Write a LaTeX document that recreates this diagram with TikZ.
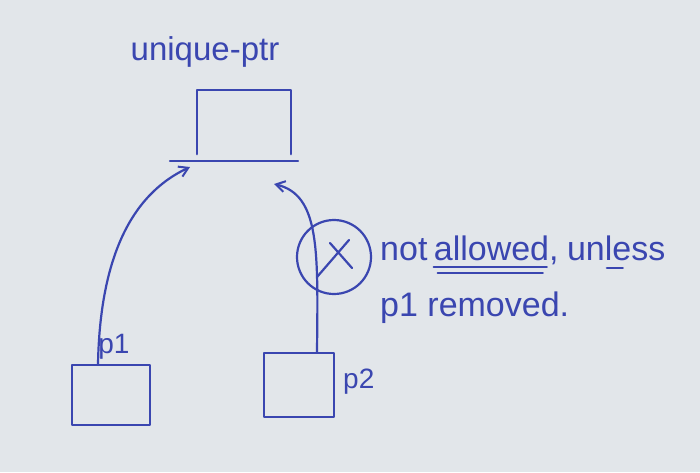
\documentclass[tikz,border=0pt]{standalone}
\usepackage{fontspec}
\setmainfont{Liberation Sans}
\usetikzlibrary{arrows.meta}
\definecolor{ink}{RGB}{58,70,176}
\definecolor{board}{RGB}{226,230,234}
\begin{document}
\begin{tikzpicture}[x=1pt,y=-1pt,
  pen/.style={draw=ink,line width=2.2pt,line cap=round,line join=round},
  hand/.style={text=ink,inner sep=0pt,font=\fontsize{28}{32}\selectfont},
  remark/.style={text=ink,inner sep=0pt,anchor=base west,font=\fontsize{34}{40}\selectfont},
  boxnode/.style={pen,inner sep=0pt},
  tip/.style={-{Straight Barb[length=9pt,width=11pt,line width=2pt]}}]
\fill[board] (0,0) rectangle (700,472);
\useasboundingbox (0,0) rectangle (700,472);

% unique_ptr box
\node[hand,font=\fontsize{33}{38}\selectfont] (title) at (205,52) {unique-ptr};
\node[inner sep=0pt,minimum width=94pt,minimum height=64pt] (uptr) at (244,122) {};
\draw[pen] (uptr.south west) -- (uptr.north west) -- (uptr.north east) -- (uptr.south east);
\coordinate (baseL) at (170,161);
\coordinate (baseR) at (298,161);
\draw[pen] (baseL) -- (baseR);

% p1 and p2 boxes
\node[boxnode,minimum width=78pt,minimum height=60pt] (p1) at (111,395) {};
\node[hand,anchor=south] (p1lab) at (114,360) {p1};
\node[boxnode,minimum width=70pt,minimum height=64pt] (p2) at (299,385) {};
\node[hand,anchor=west] (p2lab) at (343,382) {p2};

% arrows
\coordinate (t1) at (190,167);
\coordinate (t2) at (274,184);
\draw[pen,tip] ([xshift=-13pt]p1.north) .. controls (100,260) and (130,195) .. (t1);
\draw[pen,tip] ([xshift=18pt]p2.north) .. controls (318,250) and (320,195) .. (t2);

% crossed circle
\node[pen,circle,minimum size=74pt,inner sep=0pt] (cross) at (334,257) {};
\draw[pen] ([shift={(-17,20)}]cross.center) -- ([shift={(15,-17)}]cross.center);
\draw[pen] ([shift={(-4,-14)}]cross.center) -- ([shift={(18,11)}]cross.center);

% remark text
\node[remark] (rnot) at (380,260) {not};
\node[remark,anchor=base west] (rallowed) at ([xshift=6pt]rnot.base east) {allowed,};
\node[remark,anchor=base west] (runless) at ([xshift=8pt]rallowed.base east) {unless};
\draw[pen] ([yshift=-7pt]rallowed.base west) -- ([xshift=-12pt,yshift=-7pt]rallowed.base east);
\draw[pen] ([xshift=4pt,yshift=-13pt]rallowed.base west) -- ([xshift=-16pt,yshift=-13pt]rallowed.base east);
\draw[pen] ([xshift=40pt,yshift=-8pt]runless.base west) -- ([xshift=56pt,yshift=-8pt]runless.base west);
\node[remark] (rp1) at (380,316) {p1 removed.};
\end{tikzpicture}
\end{document}
